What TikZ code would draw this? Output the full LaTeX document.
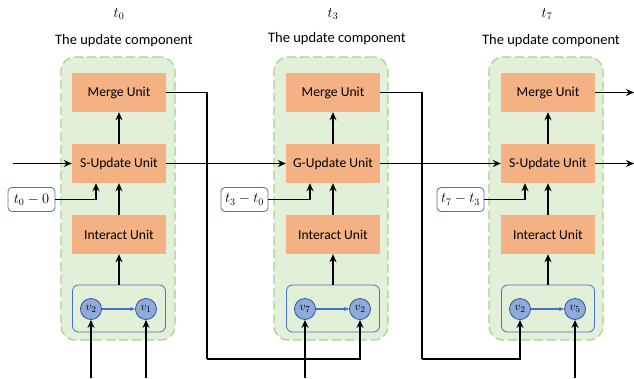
\documentclass[tikz,border=0pt]{standalone}
\usepackage{fontspec}
\setmainfont{Carlito}
\usetikzlibrary{arrows.meta}
\definecolor{gfill}{HTML}{E2F0D9}
\definecolor{gline}{HTML}{A9D18E}
\definecolor{ofill}{HTML}{F4B183}
\definecolor{bline}{HTML}{4472C4}
\definecolor{cfill}{HTML}{8FAADC}
\definecolor{cline}{HTML}{2F5597}
\tikzset{
  panel/.style={draw=gline, fill=gfill, dashed, dash pattern=on 9pt off 4pt, line width=1.2pt, rounded corners=14pt, minimum width=114pt, minimum height=283pt, inner sep=0pt},
  unitbox/.style={fill=ofill, minimum width=94pt, minimum height=39pt, inner sep=0pt, font=\fontsize{13.6}{15}\selectfont},
  graphbox/.style={draw=bline, line width=0.8pt, rounded corners=6pt, minimum width=93pt, minimum height=47pt, inner sep=0pt},
  vnode/.style={circle, draw=cline, fill=cfill, line width=0.8pt, minimum size=21pt, inner sep=0pt, font=\fontsize{13}{14}\selectfont},
  tbox/.style={draw=bline, line width=0.8pt, rounded corners=4pt, minimum width=47pt, minimum height=24pt, inner sep=0pt, fill=white, font=\fontsize{14}{16}\selectfont},
  arr/.style={line width=1.8pt, -{Stealth[length=8pt,width=7pt]}},
  ln/.style={line width=1.8pt},
  barr/.style={draw=bline, line width=1.2pt, -{Stealth[length=5pt,width=4pt]}},
  title/.style={font=\fontsize{14.5}{16}\selectfont},
}
\begin{document}
\begin{tikzpicture}[x=1pt,y=-1pt]
\useasboundingbox (0,0) rectangle (634,378);
% titles
\node[title] (tt1) at (119,14) {$t_0$};
\node[title] (tt2) at (333,14) {$t_3$};
\node[title] (tt3) at (547,14) {$t_7$};
\node[title] (ut1) at (124,41) {The update component};
\node[title] (ut2) at (337,39) {The update component};
\node[title] (ut3) at (551,41) {The update component};
% panels
\node[panel] (p1) at (118,198.5) {};
\node[panel] (p2) at (331,198.5) {};
\node[panel] (p3) at (546,198.5) {};
% panel 1
\node[unitbox] (m1) at (119,92.5) {Merge Unit};
\node[unitbox] (s1) at (119,163.5) {S-Update Unit};
\node[unitbox] (i1) at (119,234.5) {Interact Unit};
\node[graphbox] (g1) at (119,308.5) {};
\node[vnode] (a1) at (91,309) {$v_2$};
\node[vnode] (b1) at (146,309) {$v_1$};
\node[tbox] (tb1) at (31.5,199.5) {$t_0-0$};
% panel 2
\node[unitbox] (m2) at (333,92.5) {Merge Unit};
\node[unitbox] (s2) at (333,163.5) {G-Update Unit};
\node[unitbox] (i2) at (333,234.5) {Interact Unit};
\node[graphbox] (g2) at (333,308.5) {};
\node[vnode] (a2) at (305,309) {$v_7$};
\node[vnode] (b2) at (360,309) {$v_2$};
\node[tbox] (tb2) at (244.5,199.5) {$t_3-t_0$};
% panel 3
\node[unitbox] (m3) at (548,92.5) {Merge Unit};
\node[unitbox] (s3) at (548,163.5) {S-Update Unit};
\node[unitbox] (i3) at (548,234.5) {Interact Unit};
\node[graphbox] (g3) at (548,308.5) {};
\node[vnode] (a3) at (520,309) {$v_2$};
\node[vnode] (b3) at (575,309) {$v_5$};
\node[tbox] (tb3) at (460.5,199.5) {$t_7-t_3$};
% coordinates
\coordinate (in0) at (13,163.5);
\coordinate (ia1) at (91,378);
\coordinate (ib1) at (146,378);
\coordinate (ia2) at (305,378);
\coordinate (ib3) at (575,378);
\coordinate (k1) at (207,359);
\coordinate (k2) at (422,359);
\coordinate (o1) at (634,92.5);
\coordinate (o2) at (634,163.5);
% internal arrows
\foreach \i in {1,2,3}{
  \draw[arr] (g\i.north) -- (i\i.south);
  \draw[arr] (i\i.north) -- (s\i.south);
  \draw[arr] (s\i.north) -- (m\i.south);
  \draw[barr] (a\i.east) -- (b\i.west);
  \draw[arr] (tb\i.east) -| ([xshift=-23pt]s\i.south);
}
% inputs
\draw[arr] (in0) -- (s1.west);
\draw[arr] (ia1) -- (a1.south);
\draw[arr] (ib1) -- (b1.south);
\draw[arr] (ia2) -- (a2.south);
\draw[arr] (ib3) -- (b3.south);
% flows between panels
\draw[arr] (s1.east) -- (s2.west);
\draw[arr] (s2.east) -- (s3.west);
\draw[ln] (m1.east) -| (k1);
\draw[arr] (k1) -| (b2.south);
\draw[ln] (m2.east) -| (k2);
\draw[arr] (k2) -| (a3.south);
\draw[arr] (m3.east) -- (o1);
\draw[arr] (s3.east) -- (o2);
\end{tikzpicture}
\end{document}
